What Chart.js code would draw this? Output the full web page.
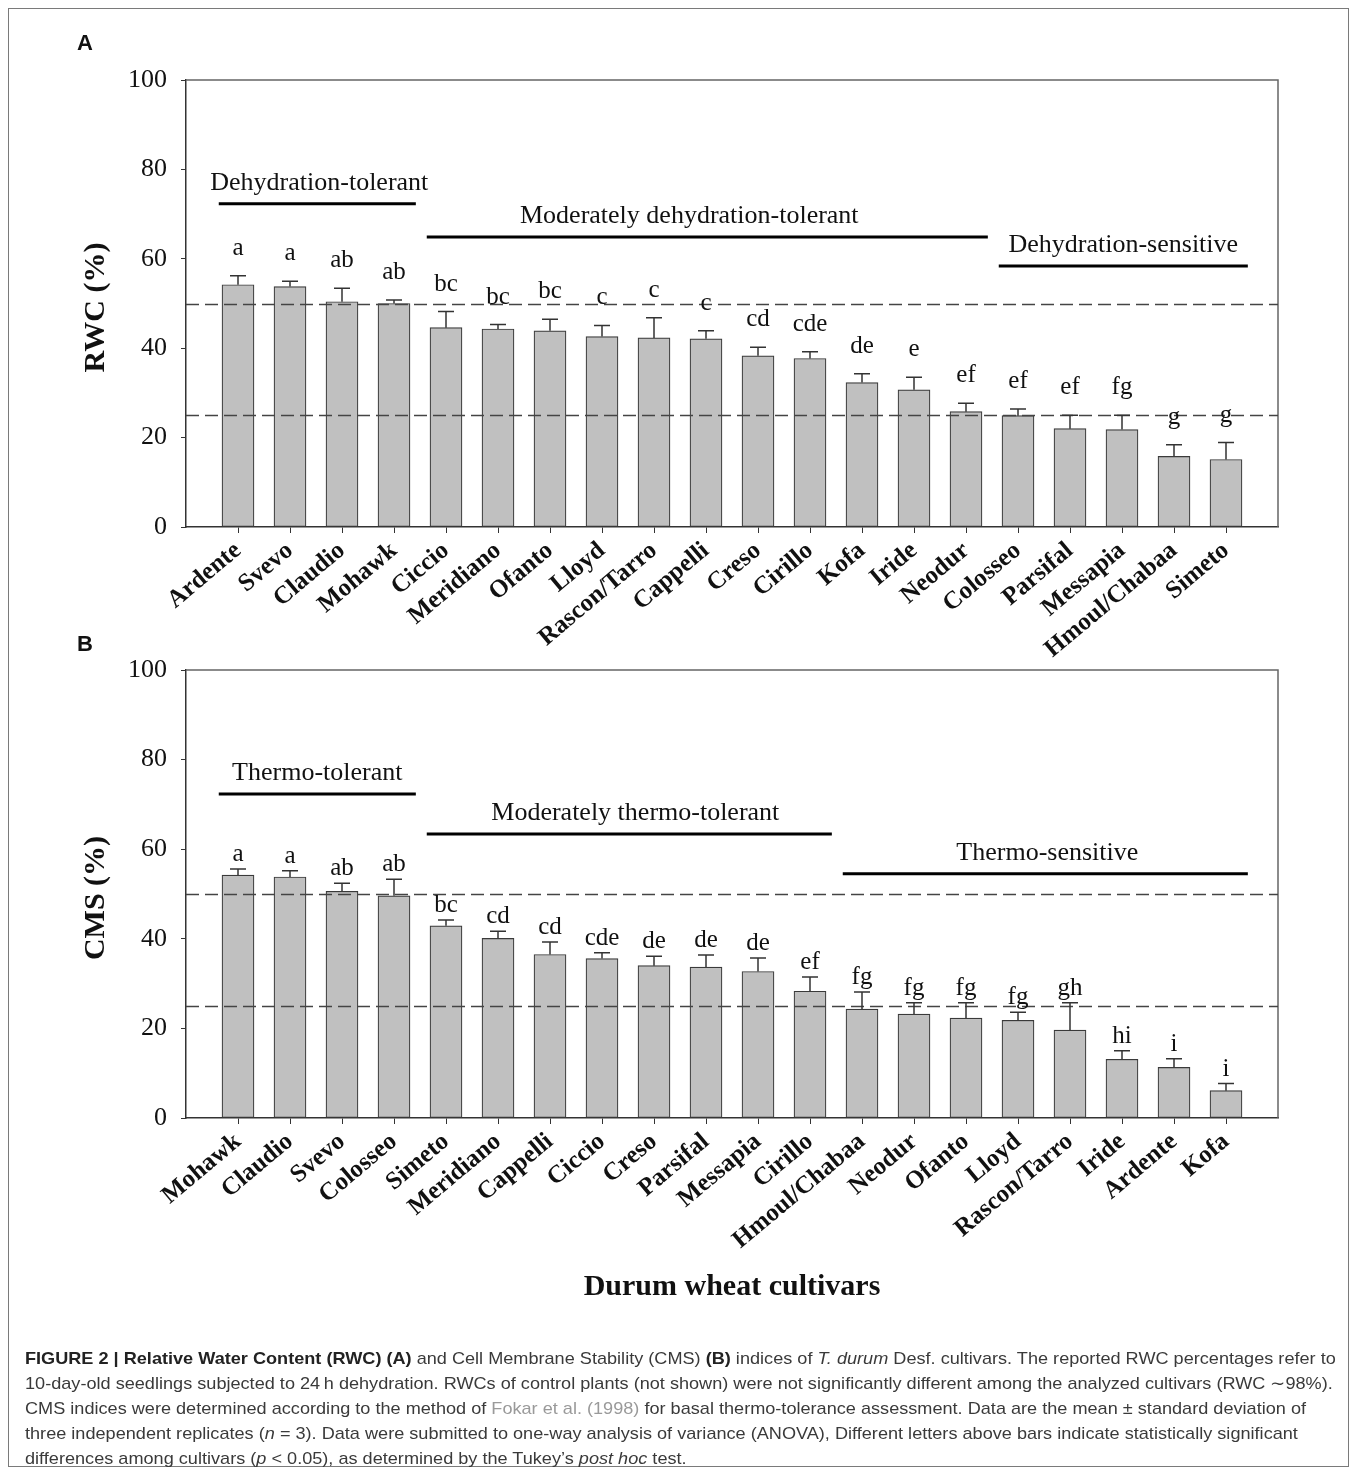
<!DOCTYPE html>
<html>
<head>
<meta charset="utf-8">
<script src="https://cdn.jsdelivr.net/npm/chart.js@4.4.0/dist/chart.umd.min.js"></script>
<style>
  body { margin: 0; background: #fff; }
  #page { position: relative; width: 1357px; height: 1475px; overflow: hidden; background: #fff; }
  #frame { position: absolute; left: 8px; top: 8px; width: 1339px; height: 1457px; border: 1px solid #7a7a7a; }
  .wrap { position: absolute; left: 0; width: 1357px; }
  #wrapA { top: 0; height: 680px; }
  #wrapB { top: 640px; height: 700px; }
  .tag { position: absolute; left: 77px; font: bold 22px "Liberation Sans", Arial, sans-serif; color: #111; line-height: 1; }
  #caption { position: absolute; left: 25px; top: 1346px; font: 17px "Liberation Sans", Arial, sans-serif; color: #3a3a3a; line-height: 25px; white-space: nowrap; }
  #caption div { transform-origin: 0 0; }
  #caption b { color: #222; }
  #caption .ref { color: #9a9a9a; }
</style>
</head>
<body>
<div id="page">
  <div id="frame"></div>
  <div class="wrap" id="wrapA"><canvas id="chartA"></canvas></div>
  <div class="wrap" id="wrapB"><canvas id="chartB"></canvas></div>
  <div class="tag" style="top:32px">A</div>
  <div class="tag" style="top:633px">B</div>
  <div id="caption">
    <div><b>FIGURE 2 | Relative Water Content (RWC) (A)</b> and Cell Membrane Stability (CMS) <b>(B)</b> indices of <i>T. durum</i> Desf. cultivars. The reported RWC percentages refer to</div>
    <div>10-day-old seedlings subjected to 24&#8201;h dehydration. RWCs of control plants (not shown) were not significantly different among the analyzed cultivars (RWC &#8764;98%).</div>
    <div>CMS indices were determined according to the method of <span class="ref">Fokar et al. (1998)</span> for basal thermo-tolerance assessment. Data are the mean &#177; standard deviation of</div>
    <div>three independent replicates (<i>n</i> = 3). Data were submitted to one-way analysis of variance (ANOVA), Different letters above bars indicate statistically significant</div>
    <div>differences among cultivars (<i>p</i> &lt; 0.05), as determined by the Tukey&#8217;s <i>post hoc</i> test.</div>
  </div>
</div>
<script>
// Panel A - Relative Water Content
const rwcCultivars = ['Ardente', 'Svevo', 'Claudio', 'Mohawk', 'Ciccio', 'Meridiano', 'Ofanto', 'Lloyd', 'Rascon/Tarro', 'Cappelli',
  'Creso', 'Cirillo', 'Kofa', 'Iride', 'Neodur', 'Colosseo', 'Parsifal', 'Messapia', 'Hmoul/Chabaa', 'Simeto'];
const rwcMeans = [54.2, 53.8, 50.4, 50.0, 44.6, 44.3, 43.9, 42.6, 42.3, 42.1, 38.3, 37.7, 32.3, 30.7, 25.8, 24.9, 22.0, 21.8, 15.8, 15.1];
const rwcSd = [2.0, 1.2, 3.0, 0.8, 3.6, 1.0, 2.6, 2.5, 4.5, 1.8, 1.9, 1.5, 2.0, 2.8, 1.9, 1.5, 3.0, 3.2, 2.6, 3.8];
const rwcLetters = ['a', 'a', 'ab', 'ab', 'bc', 'bc', 'bc', 'c', 'c', 'c', 'cd', 'cde', 'de', 'e', 'ef', 'ef', 'ef', 'fg', 'g', 'g'];
const rwcGroups = ['Dehydration-tolerant', 'Moderately dehydration-tolerant', 'Dehydration-sensitive'];
const rwcGroupFirst = [0, 4, 15];
const rwcGroupLast = [3, 14, 19];

// Panel B - Cell Membrane Stability
const cmsCultivars = ['Mohawk', 'Claudio', 'Svevo', 'Colosseo', 'Simeto', 'Meridiano', 'Cappelli', 'Ciccio', 'Creso', 'Parsifal',
  'Messapia', 'Cirillo', 'Hmoul/Chabaa', 'Neodur', 'Ofanto', 'Lloyd', 'Rascon/Tarro', 'Iride', 'Ardente', 'Kofa'];
const cmsMeans = [54.2, 53.8, 50.6, 49.6, 42.9, 40.1, 36.5, 35.6, 34.0, 33.7, 32.7, 28.3, 24.3, 23.2, 22.3, 21.8, 19.6, 13.1, 11.3, 6.1];
const cmsSd = [1.4, 1.4, 1.8, 3.7, 1.3, 1.6, 2.8, 1.3, 2.1, 2.7, 3.0, 3.2, 3.8, 2.5, 3.4, 1.8, 6.1, 1.9, 1.9, 1.6];
const cmsLetters = ['a', 'a', 'ab', 'ab', 'bc', 'cd', 'cd', 'cde', 'de', 'de', 'de', 'ef', 'fg', 'fg', 'fg', 'fg', 'gh', 'hi', 'i', 'i'];
const cmsGroups = ['Thermo-tolerant', 'Moderately thermo-tolerant', 'Thermo-sensitive'];
const cmsGroupFirst = [0, 4, 12];
const cmsGroupLast = [3, 11, 19];

const thresholds = [50, 25];
const yTicks = [0, 20, 40, 60, 80, 100];

const serif = '"Liberation Serif", "Times New Roman", serif';
const ink = '#111';

// draws dashed thresholds, error bars, letters, group bars and titles
const extras = {
  id: 'extras',
  afterDatasetsDraw(chart, args, o) {
    const ctx = chart.ctx;
    const xs = chart.scales.x, ys = chart.scales.y;
    const area = chart.chartArea;
    ctx.save();

    // frame top + right
    ctx.strokeStyle = '#666';
    ctx.lineWidth = 1.5;
    ctx.beginPath();
    ctx.moveTo(area.left, area.top);
    ctx.lineTo(area.right, area.top);
    ctx.lineTo(area.right, area.bottom);
    ctx.stroke();

    // dashed reference lines
    ctx.strokeStyle = '#444';
    ctx.lineWidth = 1.3;
    ctx.setLineDash([13, 6]);
    thresholds.forEach(t => {
      const y = Math.round(ys.getPixelForValue(t)) + 0.5;
      ctx.beginPath();
      ctx.moveTo(area.left, y);
      ctx.lineTo(area.right, y);
      ctx.stroke();
    });
    ctx.setLineDash([]);

    // error bars + letters
    const meta = chart.getDatasetMeta(0);
    ctx.strokeStyle = '#333';
    ctx.lineWidth = 1.5;
    ctx.font = '25px ' + serif;
    ctx.fillStyle = ink;
    ctx.textAlign = 'center';
    ctx.textBaseline = 'alphabetic';
    meta.data.forEach((bar, i) => {
      const top = ys.getPixelForValue(o.means[i] + o.sd[i]);
      ctx.beginPath();
      ctx.moveTo(bar.x, bar.y);
      ctx.lineTo(bar.x, top);
      ctx.moveTo(bar.x - 8, top);
      ctx.lineTo(bar.x + 8, top);
      ctx.stroke();
      ctx.fillText(o.letters[i], bar.x, top - o.letterGap);
    });

    // group annotations
    ctx.font = '26px ' + serif;
    o.groups.forEach((name, g) => {
      const x1 = xs.getPixelForValue(o.first[g] - 0.37);
      const x2 = xs.getPixelForValue(o.last[g] + 0.42);
      const y = ys.getPixelForValue(o.levels[g]);
      ctx.strokeStyle = '#000';
      ctx.lineWidth = 3;
      ctx.beginPath();
      ctx.moveTo(x1, y);
      ctx.lineTo(x2, y);
      ctx.stroke();
      ctx.fillText(name, (x1 + x2) / 2 + o.shift[g], y - 14);
    });

    // y-axis title
    ctx.font = 'bold 30px ' + serif;
    ctx.textBaseline = 'middle';
    ctx.save();
    ctx.translate(96, (area.top + area.bottom) / 2 + 4);
    ctx.rotate(-Math.PI / 2);
    ctx.fillText(o.yTitle, 0, 0);
    ctx.restore();

    if (o.xTitle) {
      ctx.fillText(o.xTitle, (area.left + area.right) / 2, o.xTitleY);
    }
    ctx.restore();
  }
};

function makePanel(id, names, means, sd, letters, groups, first, last, levels, shift, letterGap, yTitle, xTitle, padTop, xHeight, xTitleY) {
  return new Chart(document.getElementById(id), {
    type: 'bar',
    data: {
      datasets: [{
        data: means.map((v, i) => ({ x: i, y: v })),
        backgroundColor: '#c0c0c0',
        borderColor: '#3a3a3a',
        borderWidth: 1.2,
        borderSkipped: false,
        barThickness: 32
      }]
    },
    options: {
      responsive: true,
      maintainAspectRatio: false,
      animation: false,
      layout: { padding: { left: 0, right: 79, top: padTop, bottom: 0 } },
      plugins: {
        legend: { display: false },
        tooltip: { enabled: false },
        extras: { means, sd, letters, groups, first, last, levels, shift, letterGap, yTitle, xTitle, xTitleY }
      },
      scales: {
        x: {
          type: 'linear',
          min: -1,
          max: 20,
          offset: false,
          afterFit: s => { s.height = xHeight; },
          afterBuildTicks: s => { s.ticks = Array.from({ length: 22 }, (_, k) => ({ value: k - 1 })); },
          border: { color: '#333', width: 1.5 },
          grid: {
            offset: false,
            drawOnChartArea: false,
            tickLength: 6,
            tickColor: c => (c.tick && (c.tick.value < 0 || c.tick.value > 19)) ? 'rgba(0,0,0,0)' : '#333'
          },
          ticks: {
            autoSkip: false,
            minRotation: 40,
            maxRotation: 40,
            padding: 3,
            color: ink,
            font: { family: serif, size: 25, weight: 'bold' },
            callback: v => names[v] || ''
          }
        },
        y: {
          min: 0,
          max: 100,
          afterFit: s => { s.width = 186; },
          afterBuildTicks: s => { s.ticks = yTicks.map(v => ({ value: v })); },
          border: { color: '#333', width: 1.5 },
          grid: { drawOnChartArea: false, tickLength: 5, tickColor: '#333' },
          ticks: { padding: 14, color: ink, font: { family: serif, size: 26 } }
        }
      }
    },
    plugins: [extras]
  });
}

makePanel('chartA', rwcCultivars, rwcMeans, rwcSd, rwcLetters, rwcGroups, rwcGroupFirst, rwcGroupLast,
  [72.3, 64.9, 58.4], [2, -18, 0], 21, 'RWC (%)', null, 80, 153, 0);
makePanel('chartB', cmsCultivars, cmsMeans, cmsSd, cmsLetters, cmsGroups, cmsGroupFirst, cmsGroupLast,
  [72.3, 63.4, 54.5], [0, 6, 2], 8, 'CMS (%)', 'Durum wheat cultivars', 30, 222, 647);

// squeeze caption lines to the reference width
const capLines = document.querySelectorAll('#caption div');
const k = 1311 / capLines[0].scrollWidth;
capLines.forEach(d => { d.style.transform = 'scaleX(' + k + ')'; });
</script>
</body>
</html>
